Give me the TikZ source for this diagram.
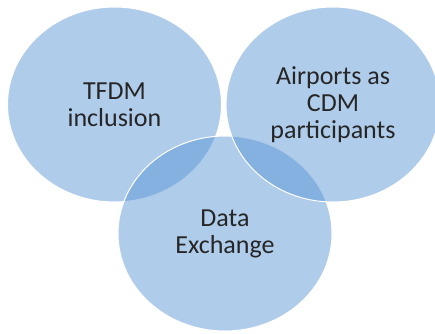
\documentclass[tikz,border=0pt]{standalone}
\usepackage{fontspec}
\setmainfont{Carlito}
\usepackage{tikz}
\usetikzlibrary{shapes.geometric}
\definecolor{vennblue}{HTML}{5894D4}
\definecolor{venntext}{HTML}{262626}
\tikzset{venn/.style={ellipse, minimum width=214pt, minimum height=195pt, inner sep=0pt, fill=vennblue, fill opacity=0.48, text opacity=1, draw=white, line width=1pt, text=venntext, align=center, font=\fontsize{26}{27}\selectfont}}

\begin{document}
\begin{tikzpicture}[x=1pt, y=-1pt]
  \useasboundingbox (0,0) rectangle (435,333);

  % circles
  \node[venn] (tfdm) at (114.5, 104.5) {TFDM\\inclusion};
  \node[venn] (data) at (225, 233.5) {Data\\Exchange};
  \node[venn] (airports) at (333, 104.5) {Airports as\\CDM\\participants};

\end{tikzpicture}
\end{document}
